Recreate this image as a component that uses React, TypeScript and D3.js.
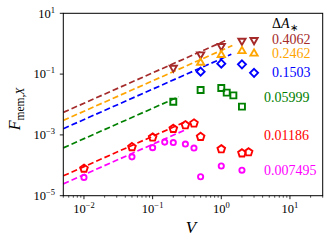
import * as d3 from "d3";

// series: ΔA* values with measured points (V, F_mem,X)
const labels = ["0.4062", "0.2462", "0.1503", "0.05999", "0.01186", "0.007495"];
const colors = ["brown", "orange", "blue", "green", "red", "magenta"];
const markers = ["tri-down", "tri-up", "diamond", "square", "pentagon", "circle"];

const vBrown = [0.2, 0.5, 1, 2, 3];
const fBrown = [0.16, 0.44, 0.83, 1.23, 1.3];
const vOrange = [0.5, 1, 2, 3];
const fOrange = [0.24, 0.43, 0.58, 0.48];
const vBlue = [0.5, 1, 2, 3];
const fBlue = [0.12, 0.22, 0.21, 0.11];
const vGreen = [0.2, 0.5, 1, 1.2, 1.5, 2];
const fGreen = [0.0123, 0.03, 0.035, 0.0246, 0.02, 0.0085];
const vRed = [0.01, 0.05, 0.1, 0.2, 0.3, 0.4, 0.5, 1, 2, 2.5];
const fRed = [7.8e-5, 4e-4, 8.3e-4, 1.6e-3, 2.1e-3, 2.4e-3, 8.7e-4, 3.4e-4, 2.5e-4, 2.7e-4];
const vMagenta = [0.01, 0.05, 0.1, 0.15, 0.2, 0.3, 0.4, 0.5, 1, 2];
const fMagenta = [4e-5, 1.9e-4, 3.8e-4, 5.8e-4, 5.6e-4, 5e-4, 3.7e-4, 4.2e-5, 9.5e-5, 6.9e-5];

// linear fits F = a * V, drawn from fitStart to fitEnd
const fitCoef = [1.1, 0.6, 0.32, 0.075, 0.009, 0.0049];
const fitStart = 0.005;
const fitEnd = [1.2, 1.45, 1.4, 0.24, 0.3, 0.3];

const xTicks = [0.01, 0.1, 1, 10];
const xTickExp = ["−2", "−1", "0", "1"];
const yTicks = [10, 0.1, 1e-3, 1e-5];
const yTickExp = ["1", "−1", "−3", "−5"];

const seriesV = [vBrown, vOrange, vBlue, vGreen, vRed, vMagenta];
const seriesF = [fBrown, fOrange, fBlue, fGreen, fRed, fMagenta];

const W = 332;
const H = 246;
const margin = { left: 63.3, right: 9.3, top: 13.3, bottom: 50.3 };
const font = "'Liberation Serif', serif";

function markerPath(kind: string): string {
    const r = 4;
    switch (kind) {
        case "tri-down":
            return `M0,${r}L${-r * 0.9},${-r * 0.55}L${r * 0.9},${-r * 0.55}Z`;
        case "tri-up":
            return `M0,${-r}L${-r * 0.9},${r * 0.55}L${r * 0.9},${r * 0.55}Z`;
        case "diamond":
            return `M0,${-r}L${r},0L0,${r}L${-r},0Z`;
        case "square":
            return `M-3,-3H3V3H-3Z`;
        case "pentagon": {
            const pts = d3.range(5).map(i => {
                const a = -Math.PI / 2 + (i * 2 * Math.PI) / 5;
                return [r * Math.cos(a), r * Math.sin(a)];
            });
            return "M" + pts.map(p => p.join(",")).join("L") + "Z";
        }
        default:
            return d3.arc()({ innerRadius: 0, outerRadius: 2.6, startAngle: 0, endAngle: 2 * Math.PI }) || "";
    }
}

const App = () => {
    const x = d3.scaleLog().domain([0.005, 30]).range([margin.left, W - margin.right]);
    const y = d3.scaleLog().domain([1e-5, 10]).range([H - margin.bottom, margin.top]);

    const x0 = margin.left;
    const x1 = W - margin.right;
    const y0 = margin.top;
    const y1 = H - margin.bottom;

    const minorX: number[] = [];
    for (let e = -3; e <= 1; e++) {
        for (let m = 2; m <= 9; m++) {
            const v = m * Math.pow(10, e);
            if (v >= 0.005 && v <= 30) minorX.push(v);
        }
    }

    const labelPos = [
        { x: 272, y: 44 },
        { x: 272, y: 57.5 },
        { x: 272, y: 76.5 },
        { x: 264, y: 102 },
        { x: 264, y: 139.5 },
        { x: 264, y: 174.5 },
    ];

    return (
        <div style={{ position: "fixed", left: 0, top: 0 }}>
            <svg width={W} height={H} style={{ display: "block", background: "white" }}>
                <defs>
                    <clipPath id="plot">
                        <rect x={x0} y={y0} width={x1 - x0} height={y1 - y0} />
                    </clipPath>
                </defs>
                <g clipPath="url(#plot)">
                    {fitCoef.map((a, i) => {
                        const d = d3.line<number>().x(v => x(v)).y(v => y(a * v))([fitStart, fitEnd[i]]);
                        return (
                            <path key={"fit" + i} d={d || ""} fill="none" stroke={colors[i]}
                                strokeWidth={1.7} strokeDasharray="6,3" />
                        );
                    })}
                </g>
                {seriesV.map((vs, i) => (
                    <g key={"s" + i}>
                        {vs.map((v, j) => (
                            <path key={j} d={markerPath(markers[i])}
                                transform={`translate(${x(v)},${y(seriesF[i][j])})`}
                                fill="none" stroke={colors[i]} strokeWidth={1.9} />
                        ))}
                    </g>
                ))}
                <rect x={x0} y={y0} width={x1 - x0} height={y1 - y0} fill="none" stroke="black" strokeWidth={1} />
                {minorX.map(v => (
                    <line key={"mx" + v} x1={x(v)} x2={x(v)} y1={y1} y2={y1 + 2} stroke="black" strokeWidth={0.7} />
                ))}
                {xTicks.map((v, i) => (
                    <g key={"xt" + i}>
                        <line x1={x(v)} x2={x(v)} y1={y1} y2={y1 + 3.5} stroke="black" strokeWidth={0.9} />
                        <text x={x(v)} y={213} textAnchor="middle" fontFamily={font} fontSize={12.5}>
                            10<tspan fontSize={8.5} dy={-5}>{xTickExp[i]}</tspan>
                        </text>
                    </g>
                ))}
                {yTicks.map((v, i) => (
                    <g key={"yt" + i}>
                        <line x1={x0 - 3.5} x2={x0} y1={y(v)} y2={y(v)} stroke="black" strokeWidth={0.9} />
                        <text x={55} y={y(v) + 4.3} textAnchor="end" fontFamily={font} fontSize={12.5}>
                            10<tspan fontSize={8.5} dy={-5}>{yTickExp[i]}</tspan>
                        </text>
                    </g>
                ))}
                <text x={(x0 + x1) / 2 - 2} y={233} textAnchor="middle" fontFamily={font} fontSize={17} fontStyle="italic">V</text>
                <text transform={`translate(20,109) rotate(-90)`} textAnchor="middle" fontFamily={font} fontSize={16}>
                    <tspan fontStyle="italic">F</tspan>
                    <tspan fontSize={11.5} dy={4}>mem,</tspan>
                    <tspan fontSize={11.5} fontStyle="italic">X</tspan>
                </text>
                <text x={272} y={28} fontFamily={font} fontSize={14}>
                    Δ<tspan fontStyle="italic">A</tspan><tspan fontSize={10} dy={3}>∗</tspan>
                </text>
                {labels.map((t, i) => (
                    <text key={"l" + i} x={labelPos[i].x} y={labelPos[i].y} fontFamily={font} fontSize={14} fill={colors[i]}>
                        {t}
                    </text>
                ))}
            </svg>
        </div>
    );
};

export default App;
